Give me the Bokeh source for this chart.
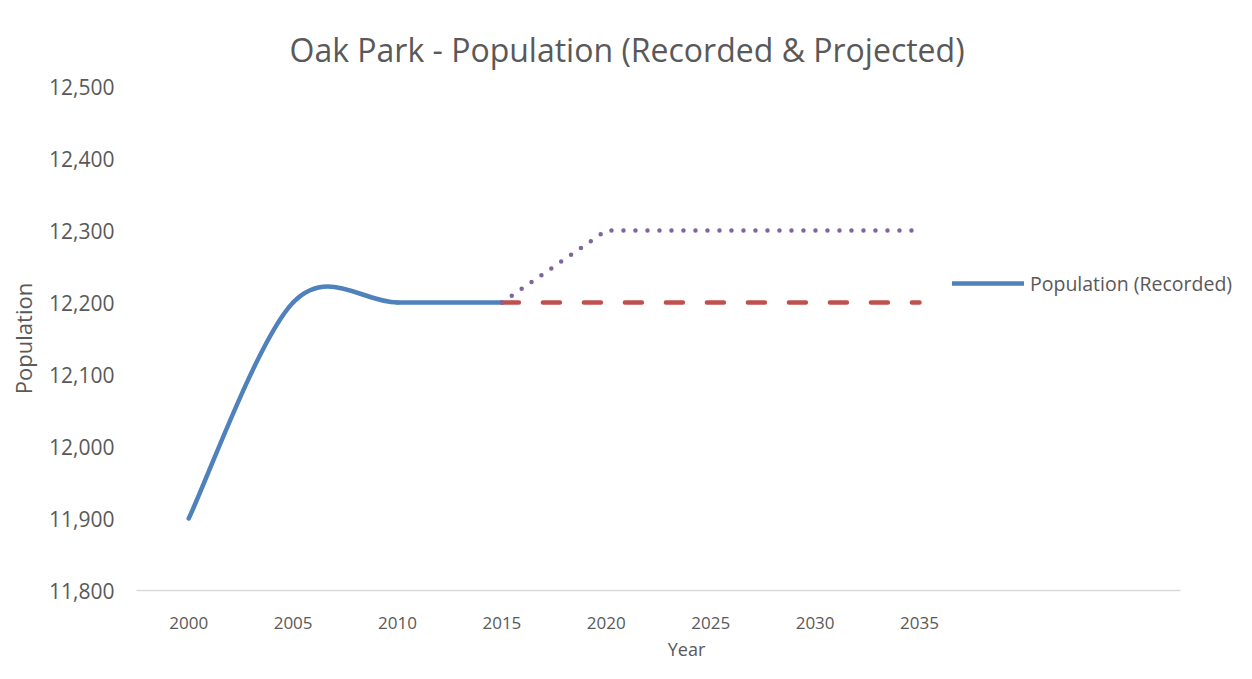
from bokeh.plotting import figure
from bokeh.models import Range1d, FixedTicker, NumeralTickFormatter, Legend, LegendItem
from bokeh.embed import file_html
from bokeh.resources import INLINE

# ---- data ----
tick_years = [2000, 2005, 2010, 2015, 2020, 2025, 2030, 2035]
tick_labels = ["2000", "2005", "2010", "2015", "2020", "2025", "2030", "2035"]
recorded_years = [2000, 2005, 2010, 2015]
recorded_pop = [11900, 12200, 12200, 12200]
proj_years = [2015, 2020, 2025, 2030, 2035]
proj_high = [12200, 12300, 12300, 12300, 12300]
proj_flat = [12200, 12200, 12200, 12200, 12200]
y_ticks = [11800, 11900, 12000, 12100, 12200, 12300, 12400, 12500]

BLUE = "#4f81bd"
RED = "#c0504d"
PURPLE = "#8064a2"
TXT = "#595959"
FONT = "Open Sans"

# category axis of 10 slots (2000..2045), 1044 px wide; frame extends to the right edge for the legend
AXIS_PX = 1044
FRAME_W = 1100
x_start, x_axis_end = 1997.5, 2047.5
x_end = x_start + (x_axis_end - x_start) * FRAME_W / AXIS_PX

p = figure(width=1236, height=663, output_backend="svg", toolbar_location=None,
           x_range=Range1d(x_start, x_end), y_range=Range1d(11800, 12500),
           min_border_left=136, min_border_right=0, min_border_top=86, min_border_bottom=72)
p.outline_line_color = None
p.xgrid.grid_line_color = None
p.ygrid.grid_line_color = None

# title
p.title.text = "Oak Park - Population (Recorded & Projected)"
p.title.align = "left"
p.title.offset = 153
p.title.standoff = 32
p.title.text_font = FONT
p.title.text_font_size = "32px"
p.title.text_font_style = "normal"
p.title.text_color = TXT

# axes
xa = p.xaxis[0]
xa.bounds = (x_start, x_axis_end)
xa.ticker = FixedTicker(ticks=tick_years)
xa.major_label_overrides = {y: l for y, l in zip(tick_years, tick_labels)}
xa.major_tick_line_color = None
xa.minor_tick_line_color = None
xa.axis_line_color = "#d9d9d9"
xa.axis_line_width = 1.5
xa.major_label_text_font = FONT
xa.major_label_text_font_size = "17px"
xa.major_label_text_color = TXT
xa.major_label_standoff = 20
xa.axis_label = "Year"
xa.axis_label_text_font = FONT
xa.axis_label_text_font_size = "18px"
xa.axis_label_text_font_style = "normal"
xa.axis_label_text_color = TXT
xa.axis_label_standoff = 5

ya = p.yaxis[0]
ya.ticker = FixedTicker(ticks=y_ticks)
ya.formatter = NumeralTickFormatter(format="0,0")
ya.major_tick_line_color = None
ya.minor_tick_line_color = None
ya.axis_line_color = None
ya.major_label_text_font = FONT
ya.major_label_text_font_size = "21px"
ya.major_label_text_color = TXT
ya.major_label_standoff = 16
ya.axis_label = "Population"
ya.axis_label_text_font = FONT
ya.axis_label_text_font_size = "22px"
ya.axis_label_text_font_style = "normal"
ya.axis_label_text_color = TXT
ya.axis_label_standoff = 8

# smoothed recorded line (Excel-style Bezier smoothing derived from the data)
n = len(recorded_years)
x0, y0, x1, y1, cx0, cy0, cx1, cy1 = [], [], [], [], [], [], [], []
for i in range(n - 1):
    a = i - 1 if i > 0 else i
    d = i + 2 if i + 2 < n else i + 1
    x0.append(recorded_years[i]); y0.append(recorded_pop[i])
    x1.append(recorded_years[i + 1]); y1.append(recorded_pop[i + 1])
    cx0.append(recorded_years[i] + (recorded_years[i + 1] - recorded_years[a]) / 6)
    cy0.append(recorded_pop[i] + (recorded_pop[i + 1] - recorded_pop[a]) / 6)
    cx1.append(recorded_years[i + 1] - (recorded_years[d] - recorded_years[i]) / 6)
    cy1.append(recorded_pop[i + 1] - (recorded_pop[d] - recorded_pop[i]) / 6)

r_rec = p.bezier(x0=x0, y0=y0, x1=x1, y1=y1, cx0=cx0, cy0=cy0, cx1=cx1, cy1=cy1,
                 line_color=BLUE, line_width=4.5, line_cap="round")

p.line(proj_years, proj_flat, line_color=RED, line_width=4.5, line_dash="17 24",
       line_cap="round")
p.line(proj_years, proj_high, line_color=PURPLE, line_width=4.5, line_dash="0 12",
       line_cap="round", line_join="round")

legend = Legend(items=[LegendItem(label="Population (Recorded)", renderers=[r_rec])],
                location=(816, 293), padding=0, margin=0, spacing=0,
                glyph_width=72, glyph_height=28, label_height=28, label_standoff=6,
                border_line_color=None, background_fill_alpha=0,
                label_text_font=FONT, label_text_font_size="19.5px",
                label_text_color=TXT)
p.add_layout(legend)

open("out.html", "w").write(file_html(p, INLINE))
